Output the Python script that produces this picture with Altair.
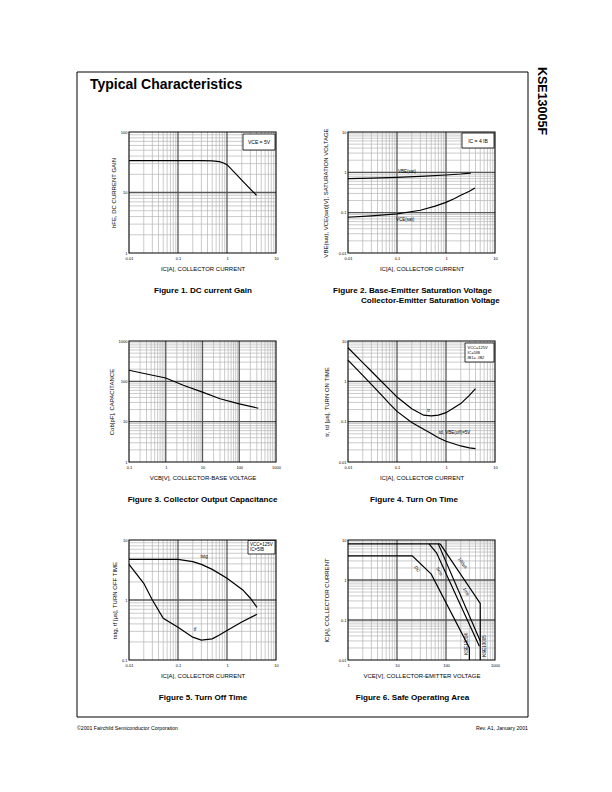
import altair as alt
import pandas as pd

FONT = "Liberation Sans"
MAJC = "#585858"
MINC = "#b4b4b4"

# ---------------- data ----------------
# Figure 1: DC current gain
f1_ic = [0.01, 0.03, 0.1, 0.3, 0.5, 0.7, 0.85, 1.0, 1.5, 2.0, 3.0, 4.0]
f1_hfe = [33.6, 33.6, 33.6, 33.6, 33.4, 32.3, 30.8, 28.8, 20.5, 16.0, 11.4, 9.0]
# Figure 2: saturation voltages
f2_ic_be = [0.01, 0.03, 0.1, 0.3, 1.0, 2.0, 3.2]
f2_vbe = [0.70, 0.72, 0.75, 0.79, 0.86, 0.91, 0.96]
f2_ic_ce = [0.01, 0.03, 0.1, 0.3, 0.6, 1.0, 1.5, 2.0, 3.0, 3.9]
f2_vce = [0.077, 0.083, 0.093, 0.115, 0.145, 0.18, 0.225, 0.27, 0.34, 0.41]
# Figure 3: output capacitance
f3_vcb = [0.1, 0.3, 1, 3, 10, 30, 100, 330]
f3_cob = [188, 152, 121, 80, 54, 37, 27.7, 21.5]
# Figure 4: turn on time
f4_ic = [0.01, 0.02, 0.03, 0.05, 0.07, 0.1, 0.2, 0.35, 0.5, 0.7, 1.0, 2.0, 3.0, 4.0]
f4_tr = [6.8, 2.92, 1.78, 0.95, 0.63, 0.41, 0.21, 0.145, 0.139, 0.145, 0.167, 0.28, 0.45, 0.66]
f4_td = [3.37, 1.40, 0.84, 0.435, 0.28, 0.18, 0.095, 0.065, 0.0506, 0.04, 0.0326, 0.025, 0.0225, 0.0214]
# Figure 5: turn off time
f5_ic_stg = [0.01, 0.03, 0.1, 0.2, 0.3, 0.5, 1.0, 2.1, 3.0, 4.1]
f5_tstg = [4.76, 4.76, 4.74, 4.35, 3.93, 3.24, 2.30, 1.47, 1.07, 0.755]
f5_ic_f = [0.01, 0.02, 0.03, 0.05, 0.1, 0.2, 0.3, 0.5, 0.7, 1.0, 2.0, 4.1]
f5_tf = [3.93, 1.9, 1.0, 0.494, 0.35, 0.24, 0.215, 0.225, 0.26, 0.31, 0.43, 0.58]
# Figure 6: safe operating area
soa_top_v = [1, 76]
soa_top_i = [8, 8]
soa_dc_v = [1, 20.5, 50, 300, 300]
soa_dc_i = [4, 4, 1.4, 0.02, 0.01]
soa_5ms_v = [45, 64, 480]
soa_5ms_i = [8, 4.8, 0.022]
soa_1ms_v = [69.5, 500]
soa_1ms_i = [8, 0.03]
soa_100us_v = [76, 500, 500]
soa_100us_i = [8, 0.26, 0.01]


def decades(dom):
    out, v = [], dom[0]
    while v <= dom[1] * 1.0001:
        out.append(round(v, 6))
        v *= 10
    return out


def minors(dom):
    out, d = [], dom[0]
    while d < dom[1] * 0.999:
        for m in range(2, 10):
            out.append(round(m * d, 8))
        d *= 10
    return out


def series(name, xs, ys):
    return pd.DataFrame({"x": xs, "y": ys, "s": name, "i": list(range(len(xs)))})


ONE = pd.DataFrame({"a": [0]})


def label(text, px, py, size=4.5, align="left", angle=0, weight="normal", baseline="middle"):
    return alt.Chart(ONE).mark_text(
        text=text, fontSize=size, align=align, angle=angle, fontWeight=weight,
        baseline=baseline, font=FONT, color="black",
    ).encode(x=alt.value(px), y=alt.value(py))


def box(x0, x1, y0, y1):
    return alt.Chart(ONE).mark_rect(fill="white", stroke="black", strokeWidth=0.8).encode(
        x=alt.value(x0), x2=alt.value(x1), y=alt.value(y0), y2=alt.value(y1))


def panel(w, h, off, xdom, ydom, xtitle, ytitle, data, extras, ytp=4):
    """Plot area is w x h, drawn 'off' pixels below the top of the view."""
    xs = alt.Scale(type="log", domain=xdom, nice=False, range=[0, w])
    ys = alt.Scale(type="log", domain=ydom, nice=False, range=[h + off, off])
    common = dict(format="~g", grid=False, ticks=False, domain=False, labelFontSize=4,
                  titleFontSize=6, titleFontWeight="normal", labelFont=FONT, titleFont=FONT,
                  labelColor="black", titleColor="black", labelFlush=False, labelOverlap=False)
    xax = alt.Axis(values=decades(xdom), title=xtitle, labelPadding=3, titlePadding=5, **common)
    yax = alt.Axis(values=decades(ydom), title=ytitle, labelPadding=2, titlePadding=ytp, **common)
    top, bot = alt.value(off), alt.value(h + off)
    gminx = alt.Chart(pd.DataFrame({"v": minors(xdom)})).mark_rule(color=MINC, strokeWidth=0.7).encode(
        x=alt.X("v:Q", scale=xs, axis=xax), y=top, y2=bot)
    gminy = alt.Chart(pd.DataFrame({"v": minors(ydom)})).mark_rule(color=MINC, strokeWidth=0.7).encode(
        y=alt.Y("v:Q", scale=ys, axis=yax), x=alt.value(0), x2=alt.value(w))
    gmajx = alt.Chart(pd.DataFrame({"v": decades(xdom)[1:-1]})).mark_rule(color=MAJC, strokeWidth=1.3).encode(
        x=alt.X("v:Q", scale=xs, axis=xax), y=top, y2=bot)
    gmajy = alt.Chart(pd.DataFrame({"v": decades(ydom)[1:-1]})).mark_rule(color=MAJC, strokeWidth=1.3).encode(
        y=alt.Y("v:Q", scale=ys, axis=yax), x=alt.value(0), x2=alt.value(w))
    frame = alt.Chart(ONE).mark_rect(fill=None, stroke="black", strokeWidth=1.1).encode(
        x=alt.value(0), x2=alt.value(w), y=top, y2=bot)
    lines = alt.Chart(pd.concat(data, ignore_index=True)).mark_line(
        color="black", strokeWidth=1.2).encode(
        x=alt.X("x:Q", scale=xs, axis=xax),
        y=alt.Y("y:Q", scale=ys, axis=yax),
        detail="s:N", order="i:Q")
    return alt.layer(gminx, gminy, gmajx, gmajy, frame, lines, *extras).properties(width=w, height=h + off)


CAP = 8.1
R2 = 10  # extra offset of the second row's plot areas

# page-level items, positioned relative to panel 1 (plot origin at page 129,132)
page_items = [
    alt.Chart(ONE).mark_rect(fill="white").encode(
        x=alt.value(-121), x2=alt.value(-120), y=alt.value(-124), y2=alt.value(-123)),
    alt.Chart(ONE).mark_rect(fill=None, stroke="black", strokeWidth=1).encode(
        x=alt.value(-52), x2=alt.value(399), y=alt.value(-60), y2=alt.value(585)),
    label("Typical Characteristics", -39, -47, size=14, weight="bold"),
    label("KSE13005F", 413, -31, size=12.5, weight="bold", angle=90, align="center"),
    label("\u00a92001 Fairchild Semiconductor Corporation", -52, 596, size=5.2),
    label("Rev. A1, January 2001", 399, 596, size=5.2, align="right"),
]

p1 = panel(147, 121, 0, [0.01, 10], [1, 100], "IC[A], COLLECTOR CURRENT", "hFE, DC CURRENT GAIN",
           [series("hfe", f1_ic, f1_hfe)],
           [box(114, 146, 2, 18), label("VCE = 5V", 130, 10, size=5, align="center"),
            label("Figure 1. DC current Gain", 74, 159, size=CAP, weight="bold", align="center")]
           + page_items)

p2 = panel(147, 121, 0, [0.01, 10], [0.01, 10], "IC[A], COLLECTOR CURRENT",
           "VBE(sat), VCE(sat)[V], SATURATION VOLTAGE",
           [series("vbe", f2_ic_be, f2_vbe), series("vce", f2_ic_ce, f2_vce)],
           [box(114, 146, 1, 16), label("IC = 4 IB", 130, 8.5, size=5, align="center"),
            label("VBE(sat)", 59, 39.5, size=4.5, align="center"),
            label("VCE(sat)", 57, 87.5, size=4.5, align="center"),
            label("Figure 2. Base-Emitter Saturation Voltage", -15, 159, size=CAP, weight="bold"),
            label("Collector-Emitter Saturation Voltage", 13, 169, size=CAP, weight="bold")], ytp=10)

p3 = panel(147, 121, R2, [0.1, 1000], [1, 1000], "VCB[V], COLLECTOR-BASE VOLTAGE", "Cob[pF], CAPACITANCE",
           [series("cob", f3_vcb, f3_cob)],
           [label("Figure 3. Collector Output Capacitance", 73.5, 159 + R2, size=CAP, weight="bold",
                  align="center")])

p4 = panel(147, 121, R2, [0.01, 10], [0.01, 10], "IC[A], COLLECTOR CURRENT", "tr, td [\u03bcs], TURN ON TIME",
           [series("tr", f4_ic, f4_tr), series("td", f4_ic, f4_td)],
           [box(117, 146, 2 + R2, 21 + R2),
            label("VCC=125V", 119.5, 6.5 + R2, size=4), label("IC=5IB", 119.5, 11.5 + R2, size=4),
            label("IB1= -IB2", 119.5, 16.5 + R2, size=4),
            label("tr", 80.7, 70 + R2, size=4.5, align="center"),
            label("td, VBE(off)=5V", 91, 91.7 + R2, size=4.5),
            label("Figure 4. Turn On Time", 66, 159 + R2, size=CAP, weight="bold", align="center")], ytp=9)

p5 = panel(147, 120, 0, [0.01, 10], [0.1, 10], "IC[A], COLLECTOR CURRENT", "tstg, tf [\u03bcs], TURN OFF TIME",
           [series("tstg", f5_ic_stg, f5_tstg), series("tf", f5_ic_f, f5_tf)],
           [box(119, 146, 0.5, 14), label("VCC=125V", 121, 4.5, size=4.5), label("IC=5IB", 121, 10, size=4.5),
            label("tstg", 75, 16.7, size=4.5, align="center"),
            label("tf", 66, 90, size=4.5, align="center"),
            label("Figure 5. Turn Off Time", 74, 158, size=CAP, weight="bold", align="center")])

p6 = panel(147, 120, 0, [1, 1000], [0.01, 10], "VCE[V], COLLECTOR-EMITTER VOLTAGE", "IC[A], COLLECTOR CURRENT",
           [series("top", soa_top_v, soa_top_i), series("dc", soa_dc_v, soa_dc_i),
            series("5ms", soa_5ms_v, soa_5ms_i), series("1ms", soa_1ms_v, soa_1ms_i),
            series("100us", soa_100us_v, soa_100us_i)],
           [label("DC", 68.7, 29.3, size=4.5, angle=55, align="center"),
            label("5ms", 91, 31.7, size=4.5, angle=60, align="center"),
            label("100\u03bcs", 114.3, 23.3, size=4.5, angle=52, align="center"),
            label("1ms", 117.7, 51.7, size=4.5, angle=62, align="center"),
            label("KSE13004", 119.3, 104, size=4.5, angle=270, align="center"),
            label("KSE13005", 136.7, 106, size=4.5, angle=270, align="center"),
            label("Figure 6. Safe Operating Area", 64.5, 158, size=CAP, weight="bold", align="center")], ytp=9)

chart = alt.concat(p1, p2, p3, p4, p5, p6, columns=2, spacing={"row": 78, "column": 72},
                   bounds="flush").properties(padding=0).configure(font=FONT).configure_view(strokeWidth=0)

chart.save("out.html", embed_options={"renderer": "svg", "actions": False})
